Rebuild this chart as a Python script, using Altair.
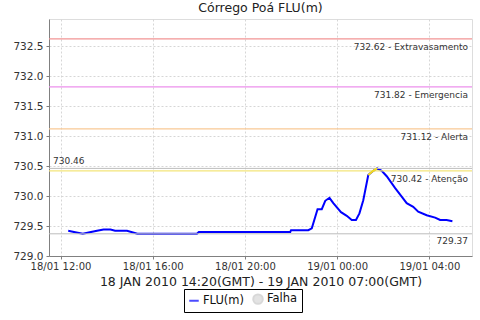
import altair as alt
import pandas as pd

# --- data -------------------------------------------------------------
times = [
    "2010-01-18T12:20", "2010-01-18T12:35", "2010-01-18T12:58", "2010-01-18T13:13",
    "2010-01-18T13:35", "2010-01-18T13:52", "2010-01-18T14:10", "2010-01-18T14:22",
    "2010-01-18T14:53", "2010-01-18T15:20", "2010-01-18T17:55", "2010-01-18T18:00",
    "2010-01-18T21:58", "2010-01-18T22:00", "2010-01-18T22:45", "2010-01-18T22:54",
    "2010-01-18T23:09", "2010-01-18T23:20", "2010-01-18T23:29", "2010-01-18T23:40",
    "2010-01-18T23:50", "2010-01-19T00:10", "2010-01-19T00:25", "2010-01-19T00:38",
    "2010-01-19T00:49", "2010-01-19T00:58", "2010-01-19T01:08", "2010-01-19T01:21",
    "2010-01-19T01:34", "2010-01-19T01:44", "2010-01-19T01:56", "2010-01-19T02:09",
    "2010-01-19T02:31", "2010-01-19T02:48", "2010-01-19T03:01", "2010-01-19T03:18",
    "2010-01-19T03:31", "2010-01-19T03:53", "2010-01-19T04:15", "2010-01-19T04:28",
    "2010-01-19T04:45", "2010-01-19T05:00",
]
levels = [
    729.42, 729.40, 729.37, 729.39,
    729.42, 729.44, 729.44, 729.42,
    729.42, 729.37, 729.37, 729.40,
    729.40, 729.43, 729.43, 729.46,
    729.78, 729.78, 729.92, 729.97,
    729.88, 729.73, 729.67, 729.60,
    729.60, 729.71, 729.93, 730.35,
    730.42, 730.46, 730.42, 730.33,
    730.13, 729.99, 729.88, 729.82,
    729.74, 729.68, 729.64, 729.60,
    729.60, 729.58,
]
series_names = ["FLU(m)", "Falha"]
series_colors = ["#0000ff", "#c8c8c8"]
series_shapes = ["stroke", "circle"]

threshold_values = [732.62, 731.82, 731.12, 730.42]
threshold_labels = ["732.62 - Extravasamento", "731.82 - Emergencia", "731.12 - Alerta", "730.42 - Atenção"]
threshold_colors = ["#f29494", "#ec90ec", "#f9c995", "#f3e57a"]

max_value = [730.46]
max_label = ["730.46"]
min_value = [729.37]
min_label = ["729.37"]

y_ticks = [729.0, 729.5, 730.0, 730.5, 731.0, 731.5, 732.0, 732.5]
title_text = "Córrego Poá FLU(m)"
x_title = "18 JAN 2010 14:20(GMT) - 19 JAN 2010 07:00(GMT)"

# --- frames -----------------------------------------------------------
df = pd.DataFrame({"t": times, "v": levels, "serie": series_names[0]})
thr = pd.DataFrame({"v": threshold_values, "label": threshold_labels, "c": threshold_colors})
mx = pd.DataFrame({"v": max_value, "label": max_label})
mn = pd.DataFrame({"v": min_value, "label": min_label})

W, H = 423, 237
FONT = "DejaVu Sans"

x_scale = alt.Scale(domain=[alt.DateTime(year=2010, month=1, date=18, hours=11, minutes=30),
                            alt.DateTime(year=2010, month=1, date=19, hours=5, minutes=51)])
y_scale = alt.Scale(domain=[729.0, 732.95], nice=False, zero=False)

x_axis = alt.Axis(format="%d/%m %H:%M",
                  values=[alt.DateTime(year=2010, month=1, date=18, hours=12),
                          alt.DateTime(year=2010, month=1, date=18, hours=16),
                          alt.DateTime(year=2010, month=1, date=18, hours=20),
                          alt.DateTime(year=2010, month=1, date=19, hours=0),
                          alt.DateTime(year=2010, month=1, date=19, hours=4)],
                  labelFontSize=10, labelFont=FONT, labelColor="#333333",
                  titleFontSize=12.5, titleFont=FONT, titleFontWeight="normal",
                  titleColor="#222222", titlePadding=4,
                  tickSize=3, tickColor="#808080", domainColor="#808080",
                  labelPadding=2, grid=True, gridColor="#d6d6d6", gridDash=[2, 2],
                  labelFlush=False, labelOverlap=False)
y_axis = alt.Axis(values=y_ticks, format=".1f", labelFontSize=10.5, labelFont=FONT,
                  labelColor="#333333", tickSize=3, tickColor="#808080",
                  domainColor="#808080", labelPadding=3, grid=True,
                  gridColor="#d6d6d6", gridDash=[2, 2], labelOverlap=False,
                  labelFlush=False)

x_enc = alt.X("t:T", scale=x_scale, title=x_title, axis=x_axis)
y_enc = alt.Y("v:Q", scale=y_scale, title=None, axis=y_axis)

base = alt.Chart(df)

line = base.mark_line(color="#0000ff", strokeWidth=2, clip=True).encode(x=x_enc, y=y_enc)

yellow = base.mark_line(color="#f5dc1e", strokeWidth=2, clip=True).encode(
    x=x_enc, y=y_enc
).transform_filter(
    alt.FieldRangePredicate(field="t", range=[
        alt.DateTime(year=2010, month=1, date=19, hours=1, minutes=21),
        alt.DateTime(year=2010, month=1, date=19, hours=1, minutes=44)])
)

legend_def = alt.Legend(title=None, orient="none", legendX=135, legendY=270,
                        direction="horizontal", strokeColor="#000000", padding=4,
                        fillColor="#ffffff", labelFontSize=11.5, labelFont=FONT,
                        labelColor="#111111", symbolSize=90, symbolStrokeWidth=2,
                        columnPadding=4, labelOffset=3, cornerRadius=0)
legend_layer = base.mark_point(filled=True).encode(
    x=x_enc, y=y_enc,
    fill=alt.Fill("serie:N", scale=alt.Scale(domain=series_names, range=series_colors), legend=legend_def),
    stroke=alt.Stroke("serie:N", scale=alt.Scale(domain=series_names, range=series_colors), legend=legend_def),
    shape=alt.Shape("serie:N", scale=alt.Scale(domain=series_names, range=series_shapes), legend=legend_def),
).transform_filter("false")

thr_rules = alt.Chart(thr).mark_rule(strokeWidth=1.3).encode(
    y=y_enc, color=alt.Color("c:N", scale=None)
)
thr_text = alt.Chart(thr).mark_text(align="right", baseline="top", dy=4, fontSize=9,
                                    font=FONT, color="#333333").encode(
    y=y_enc, x=alt.value(W - 4), text="label:N"
)

mm_rules = alt.Chart(pd.concat([mx, mn])).mark_rule(color="#bdbdbd", strokeWidth=1).encode(y=y_enc)
mx_text = alt.Chart(mx).mark_text(align="left", baseline="bottom", dy=-2, fontSize=9,
                                  font=FONT, color="#333333").encode(
    y=y_enc, x=alt.value(4), text="label:N")
mn_text = alt.Chart(mn).mark_text(align="right", baseline="top", dy=3, fontSize=9,
                                  font=FONT, color="#333333").encode(
    y=y_enc, x=alt.value(W - 4), text="label:N")

chart = alt.layer(
    line, thr_rules, mm_rules, thr_text, mx_text, mn_text, yellow, legend_layer
).properties(
    width=W, height=H,
    title=alt.TitleParams(title_text, fontSize=12.5, font=FONT, fontWeight="normal",
                          color="#222222", offset=5),
    autosize=alt.AutoSizeParams(type="none"),
    padding={"left": 49, "top": 19, "right": 8, "bottom": 64},
).configure_view(
    stroke="#a0a0a0", strokeWidth=1
).configure(background="white")

chart.save("out.html", embed_options={"renderer": "svg", "actions": False})
